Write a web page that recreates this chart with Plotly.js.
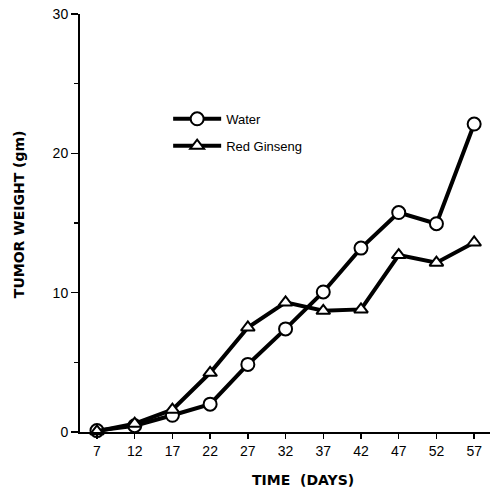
<!DOCTYPE html>
<html><head><meta charset="utf-8">
<script src="https://cdn.plot.ly/plotly-3.0.1.min.js"></script>
<style>body{margin:0;background:#fff}#chart{width:490px;height:496px}</style>
</head><body><div id="chart"></div>
<script>
var days = [7, 12, 17, 22, 27, 32, 37, 42, 47, 52, 57];
var water = [0.1, 0.45, 1.2, 2.0, 4.85, 7.4, 10.05, 13.2, 15.75, 14.95, 22.1];
var redGinseng = [0.05, 0.6, 1.6, 4.25, 7.5, 9.3, 8.7, 8.8, 12.7, 12.15, 13.6];
var yTicks = [0, 10, 20, 30];

var traces = [
  {x: days, y: water, name: 'Water', legendgroup: 'a', type: 'scatter', mode: 'lines+markers', cliponaxis: false,
   line: {color: '#000', width: 4},
   marker: {symbol: 'circle', size: 13, color: '#fff', line: {color: '#000', width: 2}}},
  {x: days, y: redGinseng, name: 'Red Ginseng', legendgroup: 'b', type: 'scatter', mode: 'lines+markers', cliponaxis: false,
   line: {color: '#000', width: 4},
   marker: {symbol: 'triangle-up', size: 12, color: '#fff', line: {color: '#000', width: 2}}}
];

var layout = {
  width: 490, height: 496,
  margin: {l: 80, r: 0, t: 14, b: 64},
  paper_bgcolor: '#fff', plot_bgcolor: '#fff',
  font: {family: 'Liberation Sans, Arial, sans-serif', color: '#000'},
  showlegend: true,
  legend: {x: 0.215, y: 0.785, xanchor: 'left', yanchor: 'top', bgcolor: 'rgba(0,0,0,0)',
           traceorder: 'grouped', tracegroupgap: 7, itemwidth: 48,
           font: {size: 13, family: 'Liberation Sans, Arial, sans-serif'}},
  xaxis: {range: [4.75, 59.1], tickvals: days, ticktext: days.map(String),
          showline: true, linecolor: '#000', linewidth: 2, ticks: 'outside', ticklen: 5, tickwidth: 1.5,
          tickcolor: '#000', showgrid: false, zeroline: false, tickfont: {size: 14}, fixedrange: true},
  yaxis: {range: [0, 30], tickvals: yTicks, ticktext: yTicks.map(String),
          showline: true, linecolor: '#000', linewidth: 2, ticks: 'outside', ticklen: 7, tickwidth: 1.5,
          tickcolor: '#000', showgrid: false, zeroline: false, tickfont: {size: 14},
          minor: {dtick: 5, ticks: 'outside', ticklen: 4, tickcolor: '#000', tickwidth: 1.5, showgrid: false}},
  annotations: [
    {text: 'TIME  (DAYS)', xref: 'paper', yref: 'paper', x: 0.545, y: -0.115, xanchor: 'center', yanchor: 'middle',
     showarrow: false, font: {size: 14, family: 'DejaVu Sans, sans-serif', weight: 'bold'}},
    {text: 'TUMOR WEIGHT (gm)', xref: 'paper', yref: 'paper', x: -0.15, y: 0.52, xanchor: 'center', yanchor: 'middle',
     textangle: -90, showarrow: false, font: {size: 14, family: 'DejaVu Sans, sans-serif', weight: 'bold'}}
  ]
};
Plotly.newPlot('chart', traces, layout, {displayModeBar: false, staticPlot: true});
</script></body></html>
